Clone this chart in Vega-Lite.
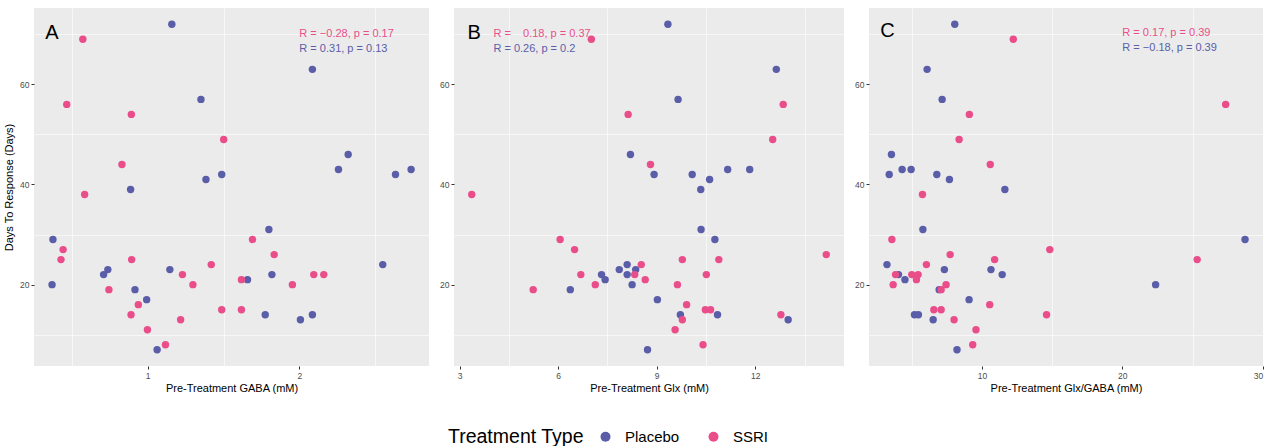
{
  "$schema": "https://vega.github.io/schema/vega-lite/v6.json",
  "padding": {"left": 3, "top": 8, "right": 5, "bottom": 0},
  "background": "white",
  "config": {
    "view": {"fill": "#EBEBEB", "stroke": null},
    "font": "Liberation Sans",
    "axis": {"domain": false, "gridColor": "#FFFFFF", "tickColor": "#333333", "tickSize": 3, "labelColor": "#4D4D4D", "labelFontSize": 8.5, "labelPadding": 2, "titleFontSize": 11, "titleFontWeight": "normal", "titleColor": "#000000", "labelFont": "Liberation Sans", "titleFont": "Liberation Sans", "titlePadding": 3},
    "legend": {"titleFontSize": 19.5, "titleFontWeight": "normal", "titleColor": "#000000", "labelFontSize": 15, "labelColor": "#000000", "symbolSize": 100, "symbolType": "circle", "symbolStrokeWidth": 0, "columnPadding": 26, "labelOffset": 12, "titlePadding": 14}
  },
  "datasets": {
    "pts": [
      {"panel": "A", "treatment": "Placebo", "value": 1.159, "days": 72},
      {"panel": "A", "treatment": "Placebo", "value": 2.086, "days": 63},
      {"panel": "A", "treatment": "Placebo", "value": 1.351, "days": 57},
      {"panel": "A", "treatment": "Placebo", "value": 2.322, "days": 46},
      {"panel": "A", "treatment": "Placebo", "value": 2.258, "days": 43},
      {"panel": "A", "treatment": "Placebo", "value": 2.737, "days": 43},
      {"panel": "A", "treatment": "Placebo", "value": 1.488, "days": 42},
      {"panel": "A", "treatment": "Placebo", "value": 2.634, "days": 42},
      {"panel": "A", "treatment": "Placebo", "value": 1.384, "days": 41},
      {"panel": "A", "treatment": "Placebo", "value": 0.887, "days": 39},
      {"panel": "A", "treatment": "Placebo", "value": 1.799, "days": 31},
      {"panel": "A", "treatment": "Placebo", "value": 0.375, "days": 29},
      {"panel": "A", "treatment": "Placebo", "value": 2.55, "days": 24},
      {"panel": "A", "treatment": "Placebo", "value": 0.737, "days": 23},
      {"panel": "A", "treatment": "Placebo", "value": 1.146, "days": 23},
      {"panel": "A", "treatment": "Placebo", "value": 0.709, "days": 22},
      {"panel": "A", "treatment": "Placebo", "value": 1.819, "days": 22},
      {"panel": "A", "treatment": "Placebo", "value": 1.658, "days": 21},
      {"panel": "A", "treatment": "Placebo", "value": 0.369, "days": 20},
      {"panel": "A", "treatment": "Placebo", "value": 0.916, "days": 19},
      {"panel": "A", "treatment": "Placebo", "value": 0.993, "days": 17},
      {"panel": "A", "treatment": "Placebo", "value": 1.775, "days": 14},
      {"panel": "A", "treatment": "Placebo", "value": 2.086, "days": 14},
      {"panel": "A", "treatment": "Placebo", "value": 2.007, "days": 13},
      {"panel": "A", "treatment": "Placebo", "value": 1.062, "days": 7},
      {"panel": "A", "treatment": "SSRI", "value": 0.572, "days": 69},
      {"panel": "A", "treatment": "SSRI", "value": 0.466, "days": 56},
      {"panel": "A", "treatment": "SSRI", "value": 0.892, "days": 54},
      {"panel": "A", "treatment": "SSRI", "value": 1.501, "days": 49},
      {"panel": "A", "treatment": "SSRI", "value": 0.83, "days": 44},
      {"panel": "A", "treatment": "SSRI", "value": 0.584, "days": 38},
      {"panel": "A", "treatment": "SSRI", "value": 1.691, "days": 29},
      {"panel": "A", "treatment": "SSRI", "value": 0.442, "days": 27},
      {"panel": "A", "treatment": "SSRI", "value": 1.834, "days": 26},
      {"panel": "A", "treatment": "SSRI", "value": 0.428, "days": 25},
      {"panel": "A", "treatment": "SSRI", "value": 0.894, "days": 25},
      {"panel": "A", "treatment": "SSRI", "value": 1.419, "days": 24},
      {"panel": "A", "treatment": "SSRI", "value": 1.229, "days": 22},
      {"panel": "A", "treatment": "SSRI", "value": 2.095, "days": 22},
      {"panel": "A", "treatment": "SSRI", "value": 2.161, "days": 22},
      {"panel": "A", "treatment": "SSRI", "value": 1.618, "days": 21},
      {"panel": "A", "treatment": "SSRI", "value": 1.298, "days": 20},
      {"panel": "A", "treatment": "SSRI", "value": 1.954, "days": 20},
      {"panel": "A", "treatment": "SSRI", "value": 0.744, "days": 19},
      {"panel": "A", "treatment": "SSRI", "value": 0.938, "days": 16},
      {"panel": "A", "treatment": "SSRI", "value": 1.488, "days": 15},
      {"panel": "A", "treatment": "SSRI", "value": 1.618, "days": 15},
      {"panel": "A", "treatment": "SSRI", "value": 0.89, "days": 14},
      {"panel": "A", "treatment": "SSRI", "value": 1.217, "days": 13},
      {"panel": "A", "treatment": "SSRI", "value": 0.998, "days": 11},
      {"panel": "A", "treatment": "SSRI", "value": 1.117, "days": 8},
      {"panel": "B", "treatment": "Placebo", "value": 9.34, "days": 72},
      {"panel": "B", "treatment": "Placebo", "value": 12.64, "days": 63},
      {"panel": "B", "treatment": "Placebo", "value": 9.65, "days": 57},
      {"panel": "B", "treatment": "Placebo", "value": 8.2, "days": 46},
      {"panel": "B", "treatment": "Placebo", "value": 11.16, "days": 43},
      {"panel": "B", "treatment": "Placebo", "value": 11.83, "days": 43},
      {"panel": "B", "treatment": "Placebo", "value": 8.92, "days": 42},
      {"panel": "B", "treatment": "Placebo", "value": 10.08, "days": 42},
      {"panel": "B", "treatment": "Placebo", "value": 10.61, "days": 41},
      {"panel": "B", "treatment": "Placebo", "value": 10.34, "days": 39},
      {"panel": "B", "treatment": "Placebo", "value": 10.35, "days": 31},
      {"panel": "B", "treatment": "Placebo", "value": 10.77, "days": 29},
      {"panel": "B", "treatment": "Placebo", "value": 8.1, "days": 24},
      {"panel": "B", "treatment": "Placebo", "value": 7.86, "days": 23},
      {"panel": "B", "treatment": "Placebo", "value": 8.36, "days": 23},
      {"panel": "B", "treatment": "Placebo", "value": 7.32, "days": 22},
      {"panel": "B", "treatment": "Placebo", "value": 8.1, "days": 22},
      {"panel": "B", "treatment": "Placebo", "value": 7.43, "days": 21},
      {"panel": "B", "treatment": "Placebo", "value": 8.25, "days": 20},
      {"panel": "B", "treatment": "Placebo", "value": 6.37, "days": 19},
      {"panel": "B", "treatment": "Placebo", "value": 9.02, "days": 17},
      {"panel": "B", "treatment": "Placebo", "value": 9.72, "days": 14},
      {"panel": "B", "treatment": "Placebo", "value": 10.85, "days": 14},
      {"panel": "B", "treatment": "Placebo", "value": 13.0, "days": 13},
      {"panel": "B", "treatment": "Placebo", "value": 8.72, "days": 7},
      {"panel": "B", "treatment": "SSRI", "value": 7.01, "days": 69},
      {"panel": "B", "treatment": "SSRI", "value": 12.85, "days": 56},
      {"panel": "B", "treatment": "SSRI", "value": 8.13, "days": 54},
      {"panel": "B", "treatment": "SSRI", "value": 12.53, "days": 49},
      {"panel": "B", "treatment": "SSRI", "value": 8.81, "days": 44},
      {"panel": "B", "treatment": "SSRI", "value": 3.37, "days": 38},
      {"panel": "B", "treatment": "SSRI", "value": 6.06, "days": 29},
      {"panel": "B", "treatment": "SSRI", "value": 6.5, "days": 27},
      {"panel": "B", "treatment": "SSRI", "value": 14.16, "days": 26},
      {"panel": "B", "treatment": "SSRI", "value": 9.78, "days": 25},
      {"panel": "B", "treatment": "SSRI", "value": 10.89, "days": 25},
      {"panel": "B", "treatment": "SSRI", "value": 8.53, "days": 24},
      {"panel": "B", "treatment": "SSRI", "value": 6.69, "days": 22},
      {"panel": "B", "treatment": "SSRI", "value": 8.33, "days": 22},
      {"panel": "B", "treatment": "SSRI", "value": 10.51, "days": 22},
      {"panel": "B", "treatment": "SSRI", "value": 8.65, "days": 21},
      {"panel": "B", "treatment": "SSRI", "value": 7.13, "days": 20},
      {"panel": "B", "treatment": "SSRI", "value": 9.63, "days": 20},
      {"panel": "B", "treatment": "SSRI", "value": 5.24, "days": 19},
      {"panel": "B", "treatment": "SSRI", "value": 9.91, "days": 16},
      {"panel": "B", "treatment": "SSRI", "value": 10.48, "days": 15},
      {"panel": "B", "treatment": "SSRI", "value": 10.64, "days": 15},
      {"panel": "B", "treatment": "SSRI", "value": 12.78, "days": 14},
      {"panel": "B", "treatment": "SSRI", "value": 9.78, "days": 13},
      {"panel": "B", "treatment": "SSRI", "value": 9.56, "days": 11},
      {"panel": "B", "treatment": "SSRI", "value": 10.41, "days": 8},
      {"panel": "C", "treatment": "Placebo", "value": 8.06, "days": 72},
      {"panel": "C", "treatment": "Placebo", "value": 6.09, "days": 63},
      {"panel": "C", "treatment": "Placebo", "value": 7.16, "days": 57},
      {"panel": "C", "treatment": "Placebo", "value": 3.55, "days": 46},
      {"panel": "C", "treatment": "Placebo", "value": 4.31, "days": 43},
      {"panel": "C", "treatment": "Placebo", "value": 4.95, "days": 43},
      {"panel": "C", "treatment": "Placebo", "value": 3.39, "days": 42},
      {"panel": "C", "treatment": "Placebo", "value": 6.78, "days": 42},
      {"panel": "C", "treatment": "Placebo", "value": 7.68, "days": 41},
      {"panel": "C", "treatment": "Placebo", "value": 11.63, "days": 39},
      {"panel": "C", "treatment": "Placebo", "value": 5.79, "days": 31},
      {"panel": "C", "treatment": "Placebo", "value": 28.74, "days": 29},
      {"panel": "C", "treatment": "Placebo", "value": 3.23, "days": 24},
      {"panel": "C", "treatment": "Placebo", "value": 7.32, "days": 23},
      {"panel": "C", "treatment": "Placebo", "value": 10.64, "days": 23},
      {"panel": "C", "treatment": "Placebo", "value": 4.05, "days": 22},
      {"panel": "C", "treatment": "Placebo", "value": 11.44, "days": 22},
      {"panel": "C", "treatment": "Placebo", "value": 4.51, "days": 21},
      {"panel": "C", "treatment": "Placebo", "value": 22.37, "days": 20},
      {"panel": "C", "treatment": "Placebo", "value": 6.95, "days": 19},
      {"panel": "C", "treatment": "Placebo", "value": 9.08, "days": 17},
      {"panel": "C", "treatment": "Placebo", "value": 5.19, "days": 14},
      {"panel": "C", "treatment": "Placebo", "value": 5.47, "days": 14},
      {"panel": "C", "treatment": "Placebo", "value": 6.52, "days": 13},
      {"panel": "C", "treatment": "Placebo", "value": 8.22, "days": 7},
      {"panel": "C", "treatment": "SSRI", "value": 12.23, "days": 69},
      {"panel": "C", "treatment": "SSRI", "value": 27.36, "days": 56},
      {"panel": "C", "treatment": "SSRI", "value": 9.1, "days": 54},
      {"panel": "C", "treatment": "SSRI", "value": 8.37, "days": 49},
      {"panel": "C", "treatment": "SSRI", "value": 10.59, "days": 44},
      {"panel": "C", "treatment": "SSRI", "value": 5.76, "days": 38},
      {"panel": "C", "treatment": "SSRI", "value": 3.58, "days": 29},
      {"panel": "C", "treatment": "SSRI", "value": 14.83, "days": 27},
      {"panel": "C", "treatment": "SSRI", "value": 7.73, "days": 26},
      {"panel": "C", "treatment": "SSRI", "value": 10.9, "days": 25},
      {"panel": "C", "treatment": "SSRI", "value": 25.33, "days": 25},
      {"panel": "C", "treatment": "SSRI", "value": 6.04, "days": 24},
      {"panel": "C", "treatment": "SSRI", "value": 3.84, "days": 22},
      {"panel": "C", "treatment": "SSRI", "value": 5.0, "days": 22},
      {"panel": "C", "treatment": "SSRI", "value": 5.45, "days": 22},
      {"panel": "C", "treatment": "SSRI", "value": 5.33, "days": 21},
      {"panel": "C", "treatment": "SSRI", "value": 3.67, "days": 20},
      {"panel": "C", "treatment": "SSRI", "value": 7.44, "days": 20},
      {"panel": "C", "treatment": "SSRI", "value": 7.09, "days": 19},
      {"panel": "C", "treatment": "SSRI", "value": 10.55, "days": 16},
      {"panel": "C", "treatment": "SSRI", "value": 6.57, "days": 15},
      {"panel": "C", "treatment": "SSRI", "value": 7.09, "days": 15},
      {"panel": "C", "treatment": "SSRI", "value": 14.6, "days": 14},
      {"panel": "C", "treatment": "SSRI", "value": 8.01, "days": 13},
      {"panel": "C", "treatment": "SSRI", "value": 9.57, "days": 11},
      {"panel": "C", "treatment": "SSRI", "value": 9.34, "days": 8}
    ],
    "notes": [
      {"panel": "A", "treatment": "SSRI", "label": "R = −0.28, p = 0.17"},
      {"panel": "A", "treatment": "Placebo", "label": "R = 0.31, p = 0.13"},
      {"panel": "B", "treatment": "SSRI", "label": "R =\u00a0\u00a0\u00a0 0.18, p = 0.37"},
      {"panel": "B", "treatment": "Placebo", "label": "R = 0.26, p = 0.2"},
      {"panel": "C", "treatment": "SSRI", "label": "R = 0.17, p = 0.39"},
      {"panel": "C", "treatment": "Placebo", "label": "R = −0.18, p = 0.39"}
    ],
    "letters": [
      {"panel": "A"},
      {"panel": "B"},
      {"panel": "C"}
    ]
  },
  "hconcat": [
    {
      "width": 395,
      "height": 358,
      "layer": [
        {
          "data": {"name": "pts"},
          "transform": [{"filter": "datum.panel === 'A'"}],
          "mark": {"type": "point", "opacity": 0},
          "encoding": {
            "x": {"field": "value", "type": "quantitative", "scale": {"domain": [0.25, 2.855], "nice": false, "zero": false}, "axis": {"orient": "bottom", "values": [0.5, 1.5, 2.5], "labels": false, "ticks": false, "title": null, "gridWidth": 0.6}},
            "y": {"field": "days", "type": "quantitative", "scale": {"domain": [3.75, 75.25], "nice": false, "zero": false}, "axis": {"orient": "left", "values": [10, 30, 50, 70], "labels": false, "ticks": false, "title": null, "gridWidth": 0.6}}
          }
        },
        {
          "data": {"name": "pts"},
          "transform": [{"filter": "datum.panel === 'A'"}],
          "mark": {"type": "circle", "size": 55, "opacity": 1},
          "encoding": {
            "x": {"field": "value", "type": "quantitative", "axis": {"orient": "bottom", "values": [1, 2], "title": "Pre-Treatment GABA (mM)", "gridWidth": 1.2}},
            "y": {"field": "days", "type": "quantitative", "axis": {"orient": "left", "values": [20, 40, 60], "title": "Days To Response (Days)", "gridWidth": 1.2, "titlePadding": 5}},
            "color": {"field": "treatment", "type": "nominal", "scale": {"domain": ["Placebo", "SSRI"], "range": ["#5A5DA8", "#EA4E8A"]}, "legend": {"title": "Treatment Type", "orient": "none", "direction": "horizontal", "titleOrient": "left", "legendX": 414, "legendY": 421}}
          }
        },
        {
          "data": {"name": "notes"},
          "transform": [{"filter": "datum.panel === 'A' && datum.treatment === 'SSRI'"}],
          "mark": {"type": "text", "align": "left", "baseline": "middle", "fontSize": 11},
          "encoding": {
            "x": {"datum": 2.0, "type": "quantitative", "axis": null},
            "y": {"datum": 70.1, "type": "quantitative", "axis": null},
            "text": {"field": "label"},
            "color": {"field": "treatment", "type": "nominal", "legend": null}
          }
        },
        {
          "data": {"name": "notes"},
          "transform": [{"filter": "datum.panel === 'A' && datum.treatment === 'Placebo'"}],
          "mark": {"type": "text", "align": "left", "baseline": "middle", "fontSize": 11},
          "encoding": {
            "x": {"datum": 2.0, "type": "quantitative", "axis": null},
            "y": {"datum": 67.1, "type": "quantitative", "axis": null},
            "text": {"field": "label"},
            "color": {"field": "treatment", "type": "nominal", "legend": null}
          }
        },
        {
          "data": {"name": "letters"},
          "transform": [{"filter": "datum.panel === 'A'"}],
          "mark": {"type": "text", "align": "left", "baseline": "middle", "fontSize": 20, "color": "#000000"},
          "encoding": {
            "x": {"datum": 0.325, "type": "quantitative", "axis": null},
            "y": {"datum": 70.3, "type": "quantitative", "axis": null},
            "text": {"field": "panel"}
          }
        }
      ],
      "resolve": {"axis": {"x": "independent", "y": "independent"}}
    },
    {
      "width": 390,
      "height": 358,
      "layer": [
        {
          "data": {"name": "pts"},
          "transform": [{"filter": "datum.panel === 'B'"}],
          "mark": {"type": "point", "opacity": 0},
          "encoding": {
            "x": {"field": "value", "type": "quantitative", "scale": {"domain": [2.83, 14.7], "nice": false, "zero": false}, "axis": {"orient": "bottom", "values": [4.5, 7.5, 10.5, 13.5], "labels": false, "ticks": false, "title": null, "gridWidth": 0.6}},
            "y": {"field": "days", "type": "quantitative", "scale": {"domain": [3.75, 75.25], "nice": false, "zero": false}, "axis": {"orient": "left", "values": [10, 30, 50, 70], "labels": false, "ticks": false, "title": null, "gridWidth": 0.6}}
          }
        },
        {
          "data": {"name": "pts"},
          "transform": [{"filter": "datum.panel === 'B'"}],
          "mark": {"type": "circle", "size": 55, "opacity": 1},
          "encoding": {
            "x": {"field": "value", "type": "quantitative", "axis": {"orient": "bottom", "values": [3, 6, 9, 12], "title": "Pre-Treatment Glx (mM)", "gridWidth": 1.2}},
            "y": {"field": "days", "type": "quantitative", "axis": {"orient": "left", "values": [20, 40, 60], "title": null, "gridWidth": 1.2}},
            "color": {"field": "treatment", "type": "nominal"}
          }
        },
        {
          "data": {"name": "notes"},
          "transform": [{"filter": "datum.panel === 'B' && datum.treatment === 'SSRI'"}],
          "mark": {"type": "text", "align": "left", "baseline": "middle", "fontSize": 11},
          "encoding": {
            "x": {"datum": 4.03, "type": "quantitative", "axis": null},
            "y": {"datum": 70.1, "type": "quantitative", "axis": null},
            "text": {"field": "label"},
            "color": {"field": "treatment", "type": "nominal", "legend": null}
          }
        },
        {
          "data": {"name": "notes"},
          "transform": [{"filter": "datum.panel === 'B' && datum.treatment === 'Placebo'"}],
          "mark": {"type": "text", "align": "left", "baseline": "middle", "fontSize": 11},
          "encoding": {
            "x": {"datum": 4.03, "type": "quantitative", "axis": null},
            "y": {"datum": 67.1, "type": "quantitative", "axis": null},
            "text": {"field": "label"},
            "color": {"field": "treatment", "type": "nominal", "legend": null}
          }
        },
        {
          "data": {"name": "letters"},
          "transform": [{"filter": "datum.panel === 'B'"}],
          "mark": {"type": "text", "align": "left", "baseline": "middle", "fontSize": 20, "color": "#000000"},
          "encoding": {
            "x": {"datum": 3.24, "type": "quantitative", "axis": null},
            "y": {"datum": 70.3, "type": "quantitative", "axis": null},
            "text": {"field": "panel"}
          }
        }
      ],
      "resolve": {"axis": {"x": "independent", "y": "independent"}}
    },
    {
      "width": 394,
      "height": 358,
      "layer": [
        {
          "data": {"name": "pts"},
          "transform": [{"filter": "datum.panel === 'C'"}],
          "mark": {"type": "point", "opacity": 0},
          "encoding": {
            "x": {"field": "value", "type": "quantitative", "scale": {"domain": [1.95, 30.02], "nice": false, "zero": false}, "axis": {"orient": "bottom", "values": [5, 15, 25], "labels": false, "ticks": false, "title": null, "gridWidth": 0.6}},
            "y": {"field": "days", "type": "quantitative", "scale": {"domain": [3.75, 75.25], "nice": false, "zero": false}, "axis": {"orient": "left", "values": [10, 30, 50, 70], "labels": false, "ticks": false, "title": null, "gridWidth": 0.6}}
          }
        },
        {
          "data": {"name": "pts"},
          "transform": [{"filter": "datum.panel === 'C'"}],
          "mark": {"type": "circle", "size": 55, "opacity": 1},
          "encoding": {
            "x": {"field": "value", "type": "quantitative", "axis": {"orient": "bottom", "values": [10, 20, 30], "title": "Pre-Treatment Glx/GABA (mM)", "gridWidth": 1.2}},
            "y": {"field": "days", "type": "quantitative", "axis": {"orient": "left", "values": [20, 40, 60], "title": null, "gridWidth": 1.2}},
            "color": {"field": "treatment", "type": "nominal"}
          }
        },
        {
          "data": {"name": "notes"},
          "transform": [{"filter": "datum.panel === 'C' && datum.treatment === 'SSRI'"}],
          "mark": {"type": "text", "align": "left", "baseline": "middle", "fontSize": 11},
          "encoding": {
            "x": {"datum": 20.0, "type": "quantitative", "axis": null},
            "y": {"datum": 70.2, "type": "quantitative", "axis": null},
            "text": {"field": "label"},
            "color": {"field": "treatment", "type": "nominal", "legend": null}
          }
        },
        {
          "data": {"name": "notes"},
          "transform": [{"filter": "datum.panel === 'C' && datum.treatment === 'Placebo'"}],
          "mark": {"type": "text", "align": "left", "baseline": "middle", "fontSize": 11},
          "encoding": {
            "x": {"datum": 20.0, "type": "quantitative", "axis": null},
            "y": {"datum": 67.2, "type": "quantitative", "axis": null},
            "text": {"field": "label"},
            "color": {"field": "treatment", "type": "nominal", "legend": null}
          }
        },
        {
          "data": {"name": "letters"},
          "transform": [{"filter": "datum.panel === 'C'"}],
          "mark": {"type": "text", "align": "left", "baseline": "middle", "fontSize": 20, "color": "#000000"},
          "encoding": {
            "x": {"datum": 2.75, "type": "quantitative", "axis": null},
            "y": {"datum": 70.6, "type": "quantitative", "axis": null},
            "text": {"field": "panel"}
          }
        }
      ],
      "resolve": {"axis": {"x": "independent", "y": "independent"}}
    }
  ],
  "spacing": 10,
  "resolve": {"scale": {"x": "independent", "y": "independent", "color": "shared"}, "legend": {"color": "shared"}}
}
